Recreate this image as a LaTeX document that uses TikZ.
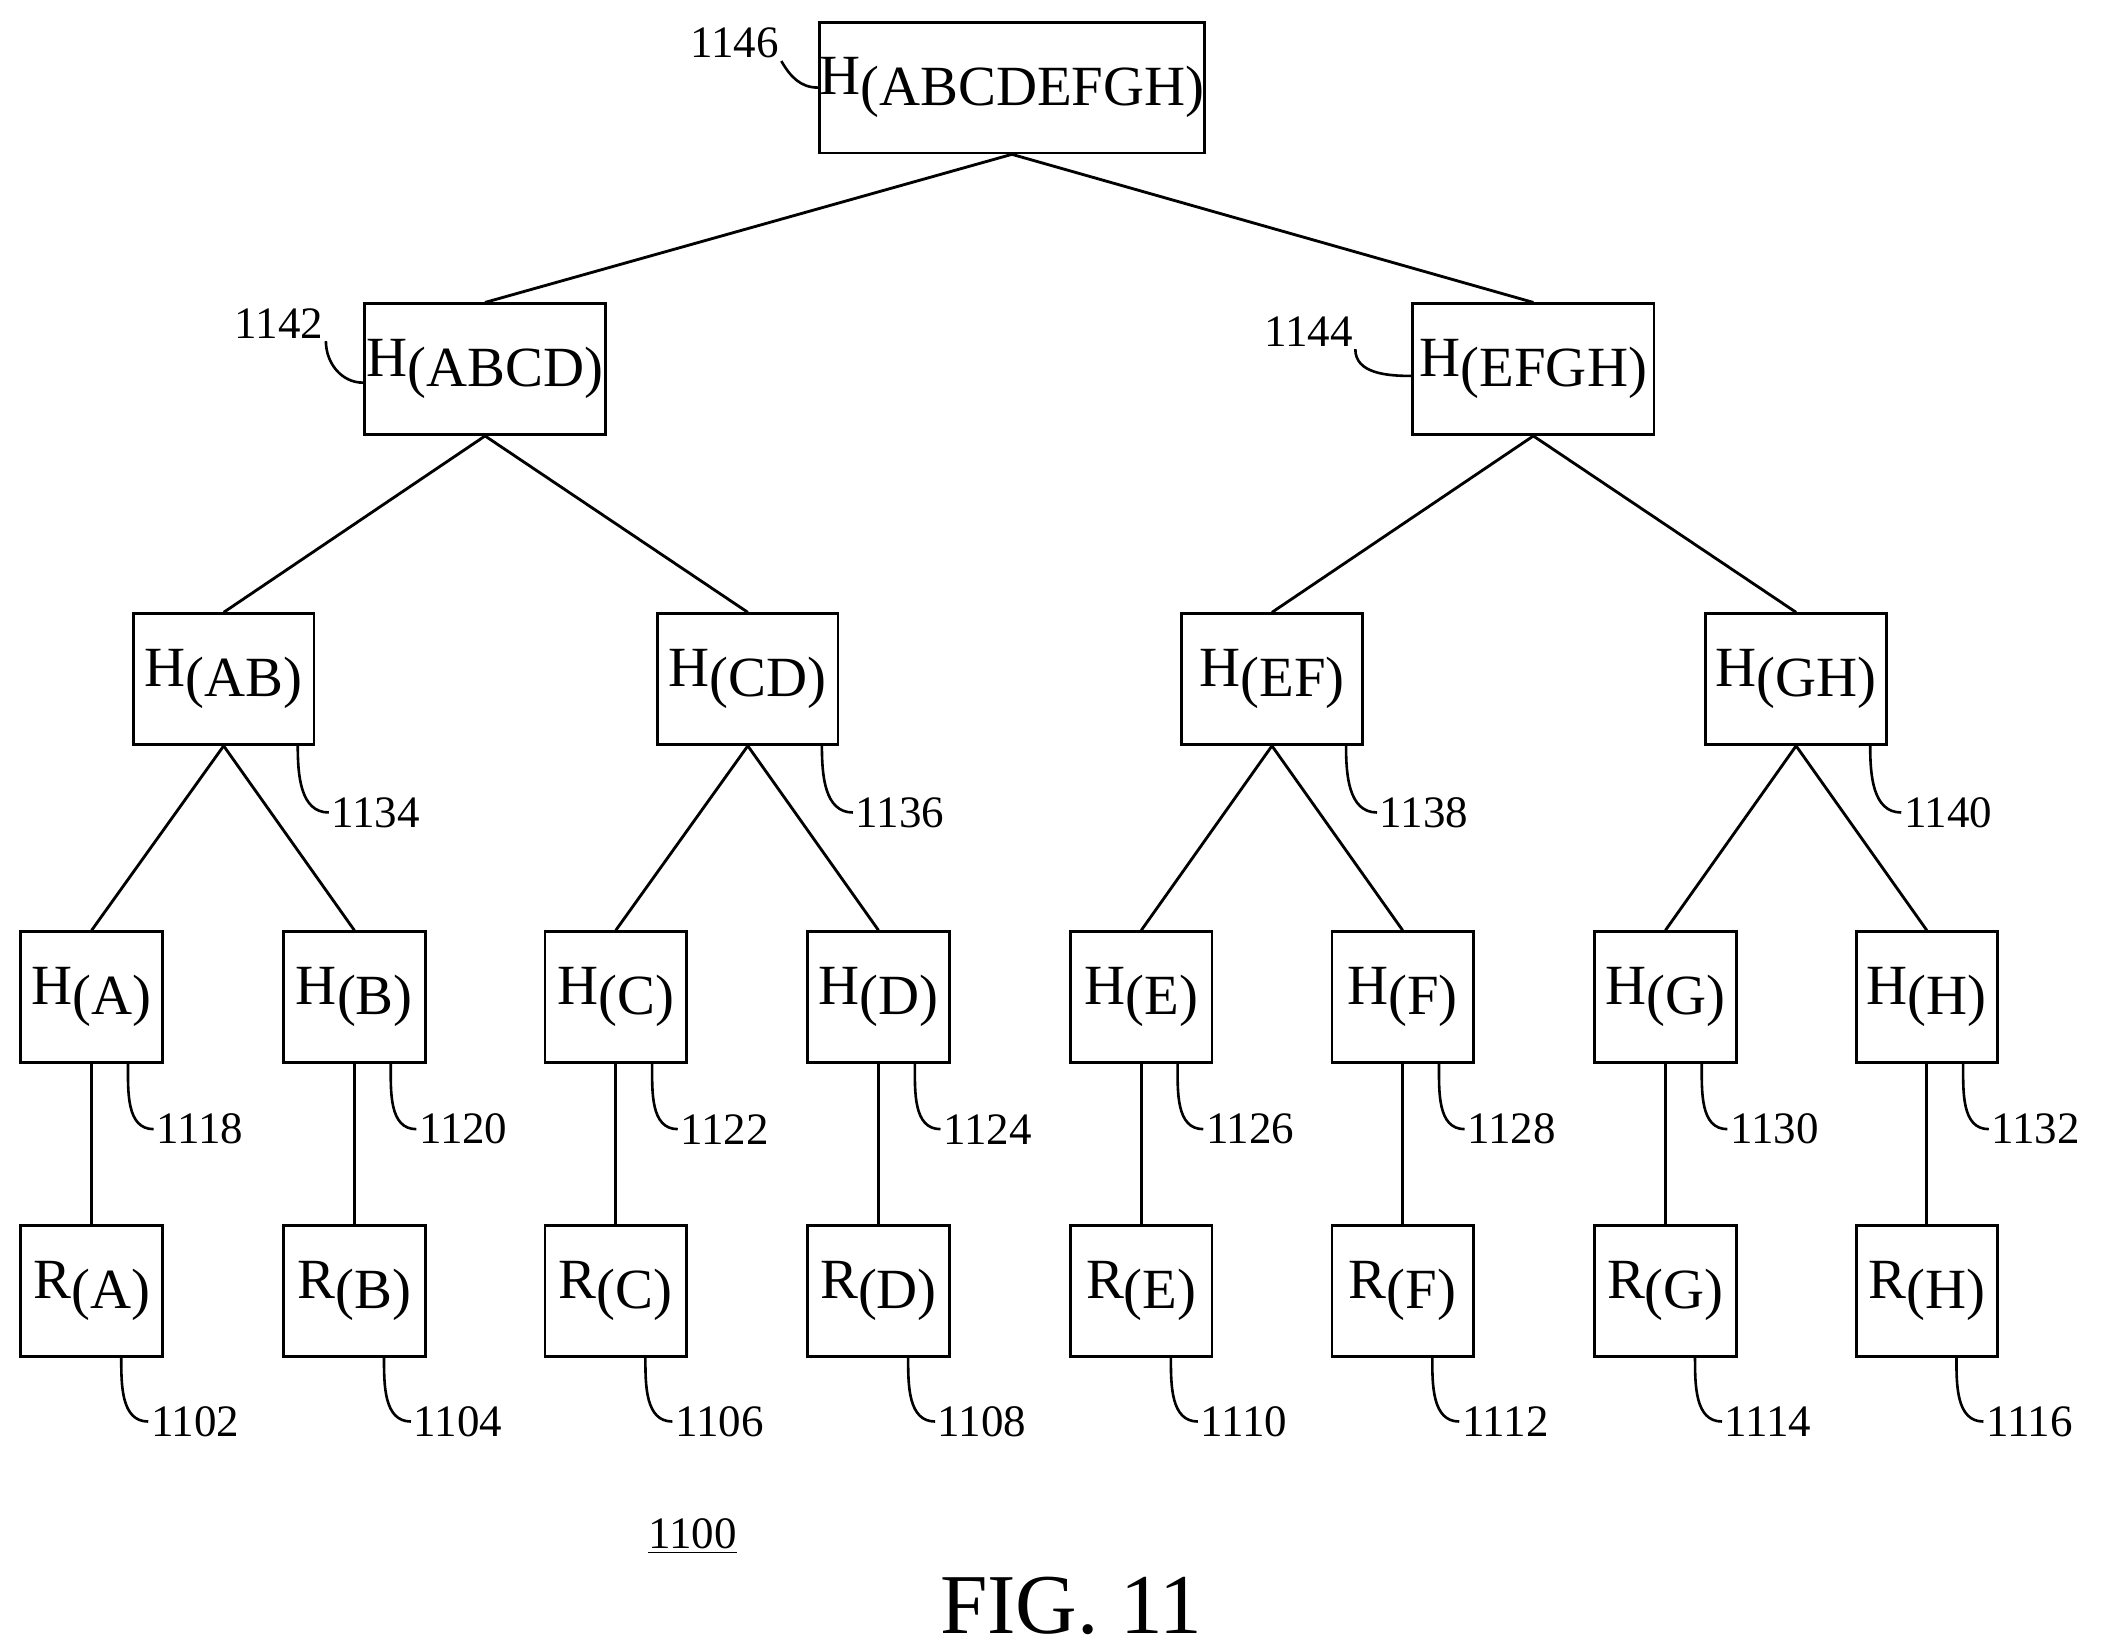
\documentclass[tikz,border=0pt]{standalone}
\usepackage{fontspec}
\setmainfont{Liberation Serif}
\begin{document}
\begin{tikzpicture}[x=0.02cm,y=-0.02cm]
    \tikzset{
        box/.style={draw, line width=1.2pt, minimum height=1.94cm, inner sep=0pt, font=\fontsize{24}{26}\selectfont},
        leaf/.style={box, minimum width=2.1cm},
        mid/.style={box, minimum width=2.68cm},
        top/.style={box, minimum width=3.58cm},
        lbl/.style={font=\fontsize{19}{21}\selectfont, inner sep=1pt},
        lead/.style={line width=1.1pt},
        edge/.style={line width=1.2pt}
        }
    \newcommand{\sub}[1]{\raisebox{-0.4ex}{(#1)}}
    \useasboundingbox (0,0) rectangle (1563,1224);

    %root
    \node (hroot) [box, minimum width=5.52cm] at (751,65) {H\sub{ABCDEFGH}};
    \node (l1146) [lbl] at (545,32) {1146};
    \draw [lead] (hroot.west) to [out=180,in=-60] (l1146.south east);

    %first level
    \node (habcd) [top] at (360,274) {H\sub{ABCD}};
    \node (hefgh) [top] at (1138,274) {H\sub{EFGH}};
    \node (l1142) [lbl] at (207,240) {1142};
    \node (l1144) [lbl] at (971,246) {1144};
    \draw [lead] ([yshift=-0.2cm]habcd.west) to [out=180,in=-90] (l1142.south east);
    \draw [lead] ([yshift=-0.1cm]hefgh.west) to [out=180,in=-90] (l1144.south east);
    \draw [edge] (hroot.south) -- (habcd.north);
    \draw [edge] (hroot.south) -- (hefgh.north);

    %second level
    \foreach \n/\x/\p/\t in {ab/166/habcd/1134, cd/555/habcd/1136, ef/944/hefgh/1138, gh/1333/hefgh/1140}{
        \node (h\n) [mid] at (\x,504) {H\sub{\MakeUppercase{\n}}};
        \node (l\t) [lbl, anchor=west] at (\x+78,603) {\t};
        \draw [lead] ([xshift=1.1cm]h\n.south) to [out=-90,in=180] (l\t.west);
        \draw [edge] (\p.south) -- (h\n.north);
    }

    %leaves
    \foreach \n/\x/\p/\t/\r in {A/68/hab/1118/1102, B/263/hab/1120/1104, C/457/hcd/1122/1106, D/652/hcd/1124/1108,
                               E/847/hef/1126/1110, F/1041/hef/1128/1112, G/1236/hgh/1130/1114, H/1430/hgh/1132/1116}{
        \node (h\n) [leaf] at (\x,740) {H\sub{\n}};
        \node (r\n) [leaf] at (\x,958) {R\sub{\n}};
        \node (l\t) [lbl, anchor=west] at (\x+46,838) {\t};
        \node (l\r) [lbl, anchor=west] at (\x+42,1055) {\r};
        \draw [lead] ([xshift=0.54cm]h\n.south) to [out=-90,in=180] (l\t.west);
        \draw [lead] ([xshift=0.44cm]r\n.south) to [out=-90,in=180] (l\r.west);
        \draw [edge] (\p.south) -- (h\n.north);
        \draw [edge] (h\n.south) -- (r\n.north);
    }

    %figure
    \node (l1100) [lbl] at (514,1140) {\underline{1100}};
    \node (fig) [font=\fontsize{36}{40}\selectfont] at (795,1192) {FIG. 11};
\end{tikzpicture}
\end{document}
